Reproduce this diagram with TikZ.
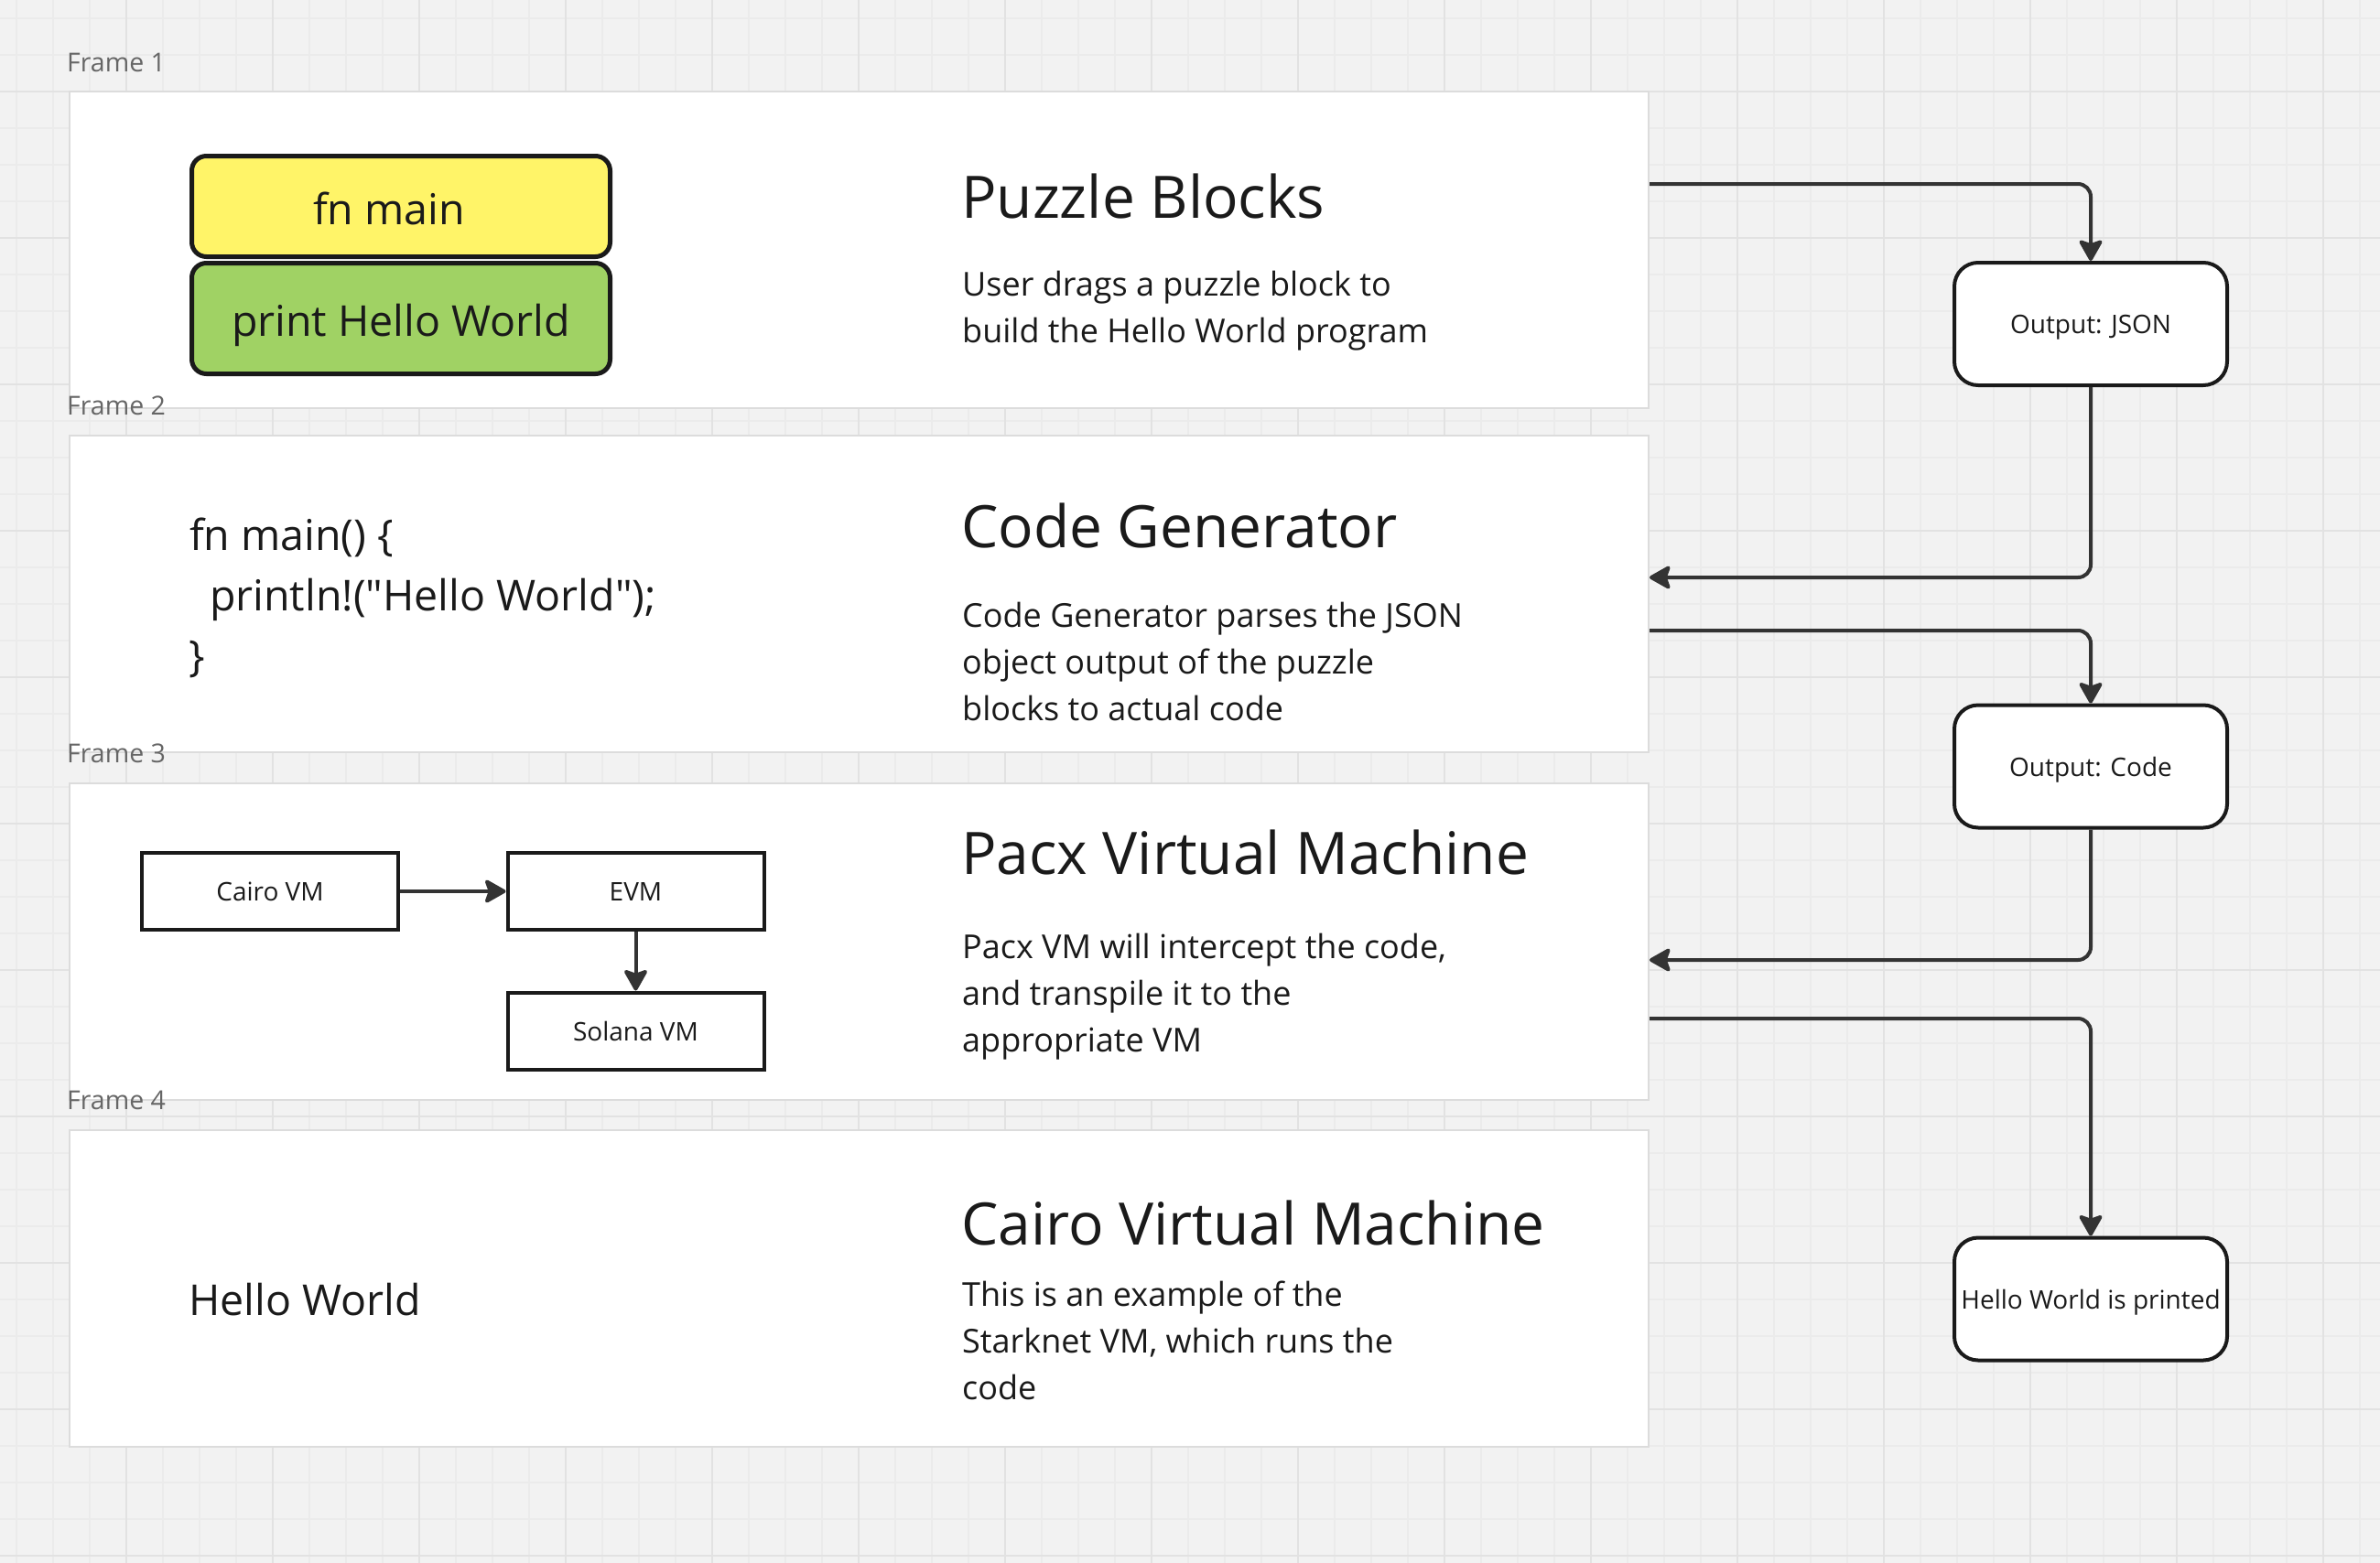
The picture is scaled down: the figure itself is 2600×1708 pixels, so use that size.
\documentclass[tikz,border=0pt]{standalone}
\usepackage{fontspec}
\setmainfont{Open Sans}[Ligatures=TeXOff]
\usetikzlibrary{arrows.meta}
\definecolor{bg}{HTML}{F2F2F2}
\definecolor{gridminor}{HTML}{EBEBEB}
\definecolor{gridmajor}{HTML}{E2E2E2}
\definecolor{framebd}{HTML}{DCDCDC}
\definecolor{ink}{HTML}{1A1A1A}
\definecolor{conncol}{HTML}{333333}
\definecolor{labelgrey}{HTML}{666666}
\definecolor{blockyellow}{HTML}{FFF468}
\definecolor{blockgreen}{HTML}{A0D264}
\begin{document}
\begin{tikzpicture}[x=1pt,y=-1pt,
  frame/.style={draw=framebd, fill=white, line width=2pt, minimum width=1725pt, minimum height=346pt, anchor=north west, inner sep=0pt},
  framelabel/.style={anchor=base west, inner sep=0pt, text=labelgrey, font=\fontsize{28.5}{34}\selectfont},
  frametitle/.style={anchor=base west, inner sep=0pt, text=ink, font=\fontsize{64}{77}\selectfont},
  framedesc/.style={anchor=base west, inner sep=0pt, text=ink, font=\fontsize{36}{51}\selectfont},
  bigtext/.style={anchor=base west, inner sep=0pt, text=ink, font=\fontsize{46.5}{66}\selectfont},
  block/.style={draw=ink, line width=5pt, rounded corners=16pt, minimum width=457pt, inner sep=0pt, text=ink, font=\fontsize{46.5}{54}\selectfont, text height=39pt, text depth=0pt},
  vmbox/.style={draw=ink, line width=4pt, fill=white, minimum width=280pt, minimum height=84pt, inner sep=0pt, text=ink, font=\fontsize{28}{34}\selectfont, text height=21pt, text depth=0pt},
  outbox/.style={draw=ink, line width=4pt, fill=white, rounded corners=26pt, minimum width=298pt, minimum height=134pt, inner sep=0pt, text=ink, font=\fontsize{28}{34}\selectfont, text height=21pt, text depth=0pt},
  conn/.style={draw=conncol, line width=4pt, rounded corners=14pt, -{Stealth[length=26pt,width=29pt,inset=5pt,round]}},
]
\useasboundingbox (0,0) rectangle (2600,1708);
\fill[bg] (0,0) rectangle (2600,1708);
% grid
\foreach \x in {18,58,...,2600} \draw[gridminor, line width=2pt] (\x,0) -- (\x,1708);
\foreach \y in {20,60,...,1708} \draw[gridminor, line width=2pt] (0,\y) -- (2600,\y);
\foreach \x in {138,298,...,2600} \draw[gridmajor, line width=2pt] (\x,0) -- (\x,1708);
\foreach \y in {100,260,...,1708} \draw[gridmajor, line width=2pt] (0,\y) -- (2600,\y);

% frames
\node[frame] (f1) at (75,99) {};
\node[frame] (f2) at (75,475) {};
\node[frame] (f3) at (75,855) {};
\node[frame] (f4) at (75,1234) {};

\node[framelabel] (l1) at (73,78) {Frame 1};
\node[framelabel] (l2) at (73,453) {Frame 2};
\node[framelabel] (l3) at (73,833) {Frame 3};
\node[framelabel] (l4) at (73,1212) {Frame 4};

% frame 1
\node[block, fill=blockyellow, minimum height=110pt] (fnmain) at (438,225.5) {fn main\hspace*{26pt}};
\node[block, fill=blockgreen, minimum height=121pt] (printhw) at (438,348) {print Hello World};
\node[frametitle] (t1) at (1050,238) {Puzzle Blocks};
\node[framedesc] (d1a) at (1051,323) {User drags a puzzle block to};
\node[framedesc] (d1b) at (1051,374) {build the Hello World program};

% frame 2
\node[bigtext] (c1) at (207,601) {fn main() \{};
\node[bigtext] (c2) at (229,667) {println!("Hello World");};
\node[bigtext] (c3) at (206,733) {\}};
\node[frametitle] (t2) at (1050,598) {Code Generator};
\node[framedesc] (d2a) at (1051,685) {Code Generator parses the JSON};
\node[framedesc] (d2b) at (1051,736) {object output of the puzzle};
\node[framedesc] (d2c) at (1051,787) {blocks to actual code};

% frame 3
\node[vmbox] (cairo) at (295,974) {Cairo VM};
\node[vmbox] (evm) at (694.5,974) {EVM};
\node[vmbox] (solana) at (694.5,1126.5) {Solana VM};
\draw[conn] (cairo.east) -- (evm.west);
\draw[conn] (evm.south) -- (solana.north);
\node[frametitle] (t3) at (1050,955) {Pacx Virtual Machine};
\node[framedesc] (d3a) at (1051,1047) {Pacx VM will intercept the code,};
\node[framedesc] (d3b) at (1051,1098) {and transpile it to the};
\node[framedesc] (d3c) at (1051,1149) {appropriate VM};

% frame 4
\node[bigtext] (hw4) at (206,1437) {Hello World};
\node[frametitle] (t4) at (1050,1360) {Cairo Virtual Machine};
\node[framedesc] (d4a) at (1051,1427) {This is an example of the};
\node[framedesc] (d4b) at (1051,1478) {Starknet VM, which runs the};
\node[framedesc] (d4c) at (1051,1529) {code};

% outputs
\node[outbox] (json) at (2284,354) {Output: JSON};
\node[outbox] (code) at (2284,837.5) {Output: Code};
\node[outbox] (hw) at (2284,1419.5) {Hello World is printed};

\draw[conn] ([yshift=-102pt]f1.north east) -| (json.north);
\draw[conn] (json.south) |- ([yshift=-156pt]f2.north east);
\draw[conn] ([yshift=-214pt]f2.north east) -| (code.north);
\draw[conn] (code.south) |- ([yshift=-194pt]f3.north east);
\draw[conn] ([yshift=-258pt]f3.north east) -| (hw.north);
\end{tikzpicture}
\end{document}
